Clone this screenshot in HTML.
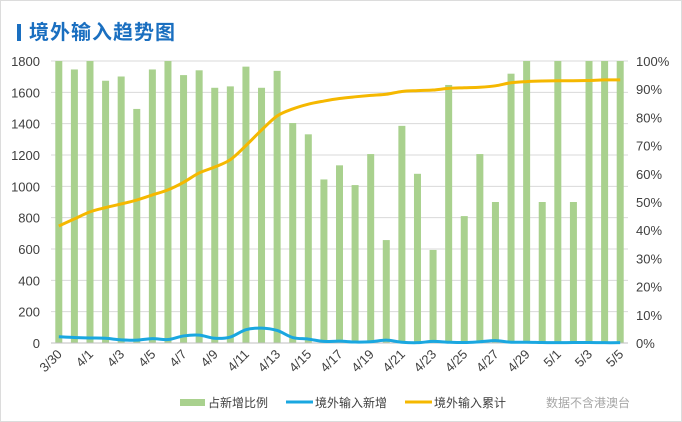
<!DOCTYPE html>
<html><head><meta charset="utf-8"><style>
body{margin:0;background:#fff;font-family:"Liberation Sans","Noto Sans CJK SC",sans-serif}
#card{position:relative;width:680px;height:420px;border:1px solid #dcdcdc;background:#fff}
#title{position:absolute;left:16px;top:15px;font-size:20px;font-weight:bold;color:#1a6fc0;font-family:"Liberation Sans","Noto Sans CJK SC",sans-serif;letter-spacing:1px}
#title span{display:inline-block;width:4px;height:17px;background:#1a6fc0;margin-right:8px;vertical-align:-2px}
</style></head><body>
<div id="card">
<div id="title"><span></span>境外输入趋势图</div>
<svg id="chart" width="682" height="422" style="position:absolute;left:-1px;top:-1px"></svg>
</div>
<script>
const categories=["3/30","3/31","4/1","4/2","4/3","4/4","4/5","4/6","4/7","4/8","4/9","4/10","4/11","4/12","4/13","4/14","4/15","4/16","4/17","4/18","4/19","4/20","4/21","4/22","4/23","4/24","4/25","4/26","4/27","4/28","4/29","4/30","5/1","5/2","5/3","5/4","5/5"];
const shareValues=[100,97,100,93,94.5,83,97,100,95,96.7,90.5,91,98,90.5,96.5,78,74,58,63,56,67,36.5,77,60,33,91.5,45,67,50,95.5,100,50,100,50,100,100,100];
const newValues=[40,35,32,30,20,18,28,22,45,50,30,38,85,95,80,35,25,10,12,6,8,18,5,2,10,5,3,8,15,5,5,3,2,3,3,2,2];
const cumulativeValues=[41.5,44,46.5,48,49.3,50.7,52.5,54.3,57,60.3,62.4,65,70,75.5,80.5,83,84.7,85.8,86.7,87.3,87.8,88.2,89.2,89.5,89.7,90.3,90.5,90.7,91.2,92.3,92.7,92.9,93,93,93.1,93.3,93.3];
const leftTicks=[0,200,400,600,800,1000,1200,1400,1600,1800];
const rightTicks=["0%","10%","20%","30%","40%","50%","60%","70%","80%","90%","100%"];
const X0=51,X1=628,Y0=343,Y1=61;
const NS="http://www.w3.org/2000/svg";
const svg=document.getElementById('chart');
const step=(X1-X0)/categories.length;
const xc=i=>X0+step*(i+0.5);
const yL=v=>Y0-(v/1800)*(Y0-Y1);
const yR=v=>Y0-(v/100)*(Y0-Y1);
function mk(t,a){const e=document.createElementNS(NS,t);for(const k in a)e.setAttribute(k,a[k]);svg.appendChild(e);return e;}
leftTicks.forEach((v,i)=>{
 const g=mk('line',{x1:X0,x2:X1,y1:yL(v),y2:yL(v),stroke:'#d9d9d9','stroke-width':1});
 
 
 const t=mk('text',{x:40,y:yL(v)+5,'text-anchor':'end','font-size':13,fill:'#404040'});
 t.textContent=v;
 
 
});
rightTicks.forEach((s,i)=>{
 const t=mk('text',{x:636,y:yR(i*10)+5,'font-size':13,fill:'#404040'});
 t.textContent=s;
 
 
});
shareValues.forEach((v,i)=>{
 const r=mk('rect',{x:xc(i)-3.5,y:yR(v),width:7,height:Y0-yR(v),fill:'#a9d18e'});
 
 
});
mk('line',{x1:X0,x2:X1,y1:Y0,y2:Y0,stroke:'#bfbfbf'});
function smooth(pts){let d=`M${pts[0][0]},${pts[0][1]}`;for(let i=0;i<pts.length-1;i++){const p0=pts[i-1]||pts[i],p1=pts[i],p2=pts[i+1],p3=pts[i+2]||p2;const c1x=p1[0]+(p2[0]-p0[0])/6,c1y=p1[1]+(p2[1]-p0[1])/6,c2x=p2[0]-(p3[0]-p1[0])/6,c2y=p2[1]-(p3[1]-p1[1])/6;d+=`C${c1x},${c1y} ${c2x},${c2y} ${p2[0]},${p2[1]}`;}return d;}
const nl=mk('path',{d:smooth(newValues.map((v,i)=>[xc(i),yL(v)])),fill:'none',stroke:'#1aa7e0','stroke-width':3});


const cl=mk('path',{d:smooth(cumulativeValues.map((v,i)=>[xc(i),yR(v)])),fill:'none',stroke:'#f5b800','stroke-width':3});


categories.forEach((c,i)=>{
 if(i%2)return;
 const t=mk('text',{x:xc(i)+4,y:355,'text-anchor':'end','font-size':13,fill:'#404040',transform:`rotate(-45 ${xc(i)+4} 355)`});
 t.textContent=c;
 
 
});
const lg=[["rect",180,"占新增比例","#a9d18e"],["line",286,"境外输入新增","#1aa7e0"],["line",405,"境外输入累计","#f5b800"]];
lg.forEach(([k,x,s,c])=>{
 const m=k==="rect"?mk('rect',{x:x,y:399,width:25,height:7,fill:c}):mk('line',{x1:x,x2:x+27,y1:402,y2:402,stroke:c,'stroke-width':3});
 
 
 const t=mk('text',{x:x+(k==="rect"?28:29),y:407,'font-size':12,fill:'#404040'});
 t.textContent=s;
 
 
});
const note=mk('text',{x:546,y:407,'font-size':12,fill:'#a6a6a6'});
note.textContent="数据不含港澳台";


</script>
</body></html>
